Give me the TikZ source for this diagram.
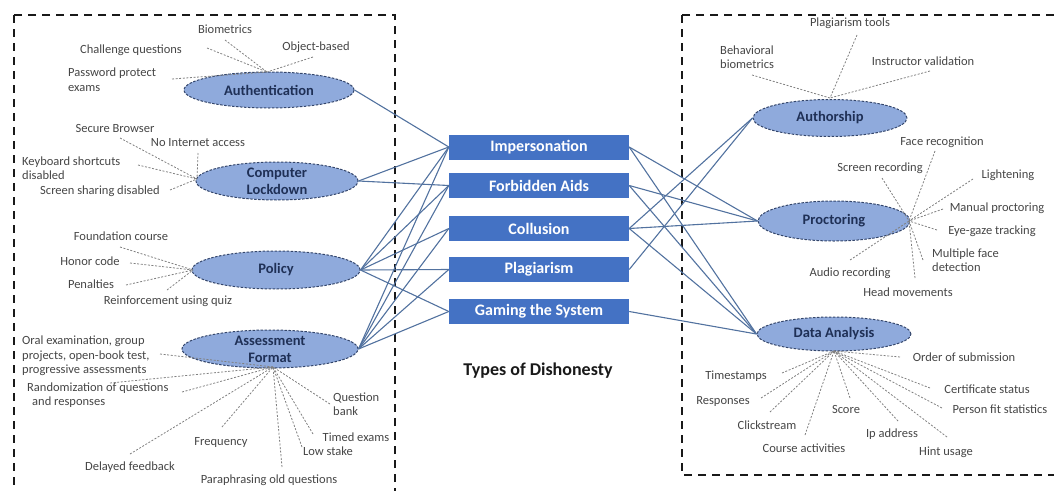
\documentclass[tikz,border=0pt]{standalone}
\usepackage{fontspec}
\setmainfont{Carlito}
\usetikzlibrary{shapes.geometric}
\definecolor{boxblue}{HTML}{4472C4}
\definecolor{ellfill}{HTML}{8FAADC}
\definecolor{ellline}{HTML}{34466B}
\definecolor{elltext}{HTML}{1F3056}
\definecolor{conn}{HTML}{52729F}
\definecolor{leafline}{HTML}{808080}
\definecolor{leaftext}{HTML}{454545}
\begin{document}
\begin{tikzpicture}[x=1pt,y=-1pt,
  frame/.style={draw=black!90,line width=2.6pt,dash pattern=on 8pt off 6pt},
  ell/.style={ellipse,draw=ellline,fill=ellfill,line width=1pt,dash pattern=on 2.5pt off 1.5pt,inner sep=0pt},
  elltxt/.style={font=\bfseries\fontsize{14.5}{17}\selectfont,text=elltext,align=center,inner sep=0pt},
  typebox/.style={rectangle,fill=boxblue,minimum width=180pt,minimum height=25pt,inner sep=0pt,
    text=white,font=\bfseries\fontsize{16}{18}\selectfont},
  leaf/.style={font=\fontsize{12.5}{14.5}\selectfont,text=leaftext,inner sep=0pt,align=left},
  link/.style={draw=conn,line width=1.1pt},
  spoke/.style={draw=leafline,line width=0.8pt,dash pattern=on 2pt off 1.6pt}]

\useasboundingbox (0,0) rectangle (1054,490);
\clip (0,0) rectangle (1054,490);

% dashed group frames
\draw[frame] (14,15) rectangle (395,520);
\draw[frame] (682,15) rectangle (1080,475);

% types of dishonesty
\node[typebox] (imp) at (539,147) {Impersonation};
\node[typebox] (forb) at (539,185.5) {Forbidden Aids};
\node[typebox] (coll) at (539,228.5) {Collusion};
\node[typebox] (plag) at (539,269.5) {Plagiarism};
\node[typebox] (game) at (539,311.5) {Gaming the System};
\node[font=\bfseries\fontsize{18}{20}\selectfont,text=black!90] (title) at (538,371) {Types of Dishonesty};

% prevention measures (left)
\node[ell,minimum width=170pt,minimum height=36pt] (auth) at (269,90) {};
\node[elltxt] (authT) at (269,90) {Authentication};
\node[ell,minimum width=162pt,minimum height=38pt] (lock) at (277,181) {};
\node[elltxt] (lockT) at (277,181) {Computer\\Lockdown};
\node[ell,minimum width=168pt,minimum height=38pt] (pol) at (276,270) {};
\node[elltxt] (polT) at (276,270) {Policy};
\node[ell,minimum width=176pt,minimum height=38pt] (assess) at (270,349) {};
\node[elltxt] (assessT) at (270,349) {Assessment\\Format};

% detection measures (right)
\node[ell,minimum width=154pt,minimum height=37pt] (authr) at (830,118) {};
\node[elltxt] (authrT) at (830,118) {Authorship};
\node[ell,minimum width=152pt,minimum height=40pt] (proc) at (834,221) {};
\node[elltxt] (procT) at (834,221) {Proctoring};
\node[ell,minimum width=154pt,minimum height=34pt] (data) at (834,334) {};
\node[elltxt] (dataT) at (834,334) {Data Analysis};

% links from measures to dishonesty types
\draw[link] (auth.east) -- (imp.west);
\draw[link] (lock.east) -- (imp.west);
\draw[link] (lock.east) -- (forb.west);
\foreach \t in {imp,forb,coll,plag,game} {
  \draw[link] (pol.east) -- (\t.west);
  \draw[link] (assess.east) -- (\t.west);
}
\draw[link] (imp.east) -- (proc.west);
\draw[link] (imp.east) -- (data.west);
\draw[link] (forb.east) -- (proc.west);
\draw[link] (forb.east) -- (data.west);
\draw[link] (coll.east) -- (authr.west);
\draw[link] (coll.east) -- (proc.west);
\draw[link] (coll.east) -- (data.west);
\draw[link] (plag.east) -- (authr.west);
\draw[link] (game.east) -- (data.west);

% spoke hubs
\coordinate (hAuth) at (267,72);
\coordinate (hLock) at (197,179);
\coordinate (hPol) at (193,270);
\coordinate (hAss) at (273,367);
\coordinate (hAuthr) at (830,98);
\coordinate (hProc) at (909,221);
\coordinate (hData) at (834,351);

% Authentication
\node[leaf] (bio) at (225,29) {Biometrics};
\node[leaf] (chal) at (131,50) {Challenge questions};
\node[leaf] (obj) at (316,47) {Object-based};
\node[leaf,anchor=west] (pass) at (68,79.5) {Password protect\\exams};
\coordinate (bioE) at (225,40);
\coordinate (chalE) at (207,48);
\coordinate (objE) at (313,57);
\coordinate (passE) at (172,79);
\foreach \c in {bioE,chalE,objE,passE} \draw[spoke] (\c) -- (hAuth);

% Computer Lockdown
\node[leaf] (sec) at (115,128) {Secure Browser};
\node[leaf] (noint) at (198,143) {No Internet access};
\node[leaf,anchor=west] (kbd) at (22,168) {Keyboard shortcuts\\disabled};
\node[leaf] (scr) at (100,191) {Screen sharing disabled};
\coordinate (secE) at (120,138);
\coordinate (nointE) at (198,153);
\coordinate (kbdE) at (138,165);
\coordinate (scrE) at (170,190);
\foreach \c in {secE,nointE,kbdE,scrE} \draw[spoke] (\c) -- (hLock);

% Policy
\node[leaf] (found) at (121,236) {Foundation course};
\node[leaf] (honor) at (90,261) {Honor code};
\node[leaf] (pen) at (91,284) {Penalties};
\node[leaf] (reinf) at (168,301) {Reinforcement using quiz};
\coordinate (foundE) at (120,247);
\coordinate (honorE) at (130,263);
\coordinate (penE) at (126,285);
\coordinate (reinfE) at (167,290);
\foreach \c in {foundE,honorE,penE,reinfE} \draw[spoke] (\c) -- (hPol);

% Assessment Format
\node[leaf,anchor=west] (oral) at (22,356) {Oral examination, group\\projects, open-book test,\\progressive assessments};
\node[leaf,anchor=west] (rand) at (27,395) {Randomization of questions\\\hspace*{5pt}and responses};
\node[leaf] (freq) at (221,442) {Frequency};
\node[leaf] (delay) at (130,467) {Delayed feedback};
\node[leaf] (para) at (269,480) {Paraphrasing old questions};
\node[leaf,anchor=west] (qbank) at (333,404) {Question\\bank};
\node[leaf] (timed) at (356,437) {Timed exams};
\node[leaf] (low) at (328,451) {Low stake};
\coordinate (oralE) at (160,354);
\coordinate (randA) at (110,383);
\coordinate (randE) at (182,392);
\coordinate (freqE) at (222,427);
\coordinate (delayE) at (130,454);
\coordinate (paraE) at (282,467);
\coordinate (qbankE) at (330,404);
\coordinate (timedE) at (313,434);
\coordinate (lowE) at (302,447);
\foreach \c in {oralE,randA,randE,freqE,delayE,paraE,qbankE,timedE,lowE} \draw[spoke] (\c) -- (hAss);

% Authorship
\node[leaf] (plagt) at (850,23) {Plagiarism tools};
\node[leaf,anchor=west] (behav) at (720,57) {Behavioral\\biometrics};
\node[leaf] (instr) at (923,61) {Instructor validation};
\coordinate (plagtE) at (857,35);
\coordinate (behavE) at (752,75);
\coordinate (instrE) at (930,71);
\foreach \c in {plagtE,behavE,instrE} \draw[spoke] (\c) -- (hAuthr);

% Proctoring
\node[leaf] (facer) at (942,142) {Face recognition};
\node[leaf] (scrrec) at (880,168) {Screen recording};
\node[leaf] (light) at (1008,175) {Lightening};
\node[leaf] (manual) at (997,208) {Manual proctoring};
\node[leaf] (eye) at (992,231) {Eye-gaze tracking};
\node[leaf,anchor=west] (mult) at (932,260) {Multiple face\\detection};
\node[leaf] (audio) at (850,273) {Audio recording};
\node[leaf] (head) at (908,292) {Head movements};
\coordinate (facerE) at (935,151);
\coordinate (scrrecE) at (882,178);
\coordinate (lightE) at (973,179);
\coordinate (manualE) at (943,209);
\coordinate (eyeE) at (937,230);
\coordinate (multE) at (923,260);
\coordinate (audioE) at (850,260);
\coordinate (headE) at (915,278);
\foreach \c in {facerE,scrrecE,lightE,manualE,eyeE,multE,audioE,headE} \draw[spoke] (\c) -- (hProc);

% Data Analysis
\node[leaf] (order) at (964,357) {Order of submission};
\node[leaf] (times) at (736,376) {Timestamps};
\node[leaf] (cert) at (987,389) {Certificate status};
\node[leaf] (resp) at (723,401) {Responses};
\node[leaf] (score) at (846,409) {Score};
\node[leaf] (pfit) at (1000,409) {Person fit statistics};
\node[leaf] (click) at (767,425) {Clickstream};
\node[leaf] (ip) at (892,434) {Ip address};
\node[leaf] (course) at (804,448) {Course activities};
\node[leaf] (hint) at (946,452) {Hint usage};
\coordinate (orderE) at (900,357);
\coordinate (timesE) at (782,373);
\coordinate (certE) at (930,388);
\coordinate (respE) at (761,398);
\coordinate (scoreE) at (850,398);
\coordinate (pfitE) at (942,408);
\coordinate (clickE) at (770,412);
\coordinate (ipE) at (898,421);
\coordinate (courseE) at (805,435);
\coordinate (hintE) at (947,437);
\foreach \c in {orderE,timesE,certE,respE,scoreE,pfitE,clickE,ipE,courseE,hintE} \draw[spoke] (\c) -- (hData);
\end{tikzpicture}
\end{document}
